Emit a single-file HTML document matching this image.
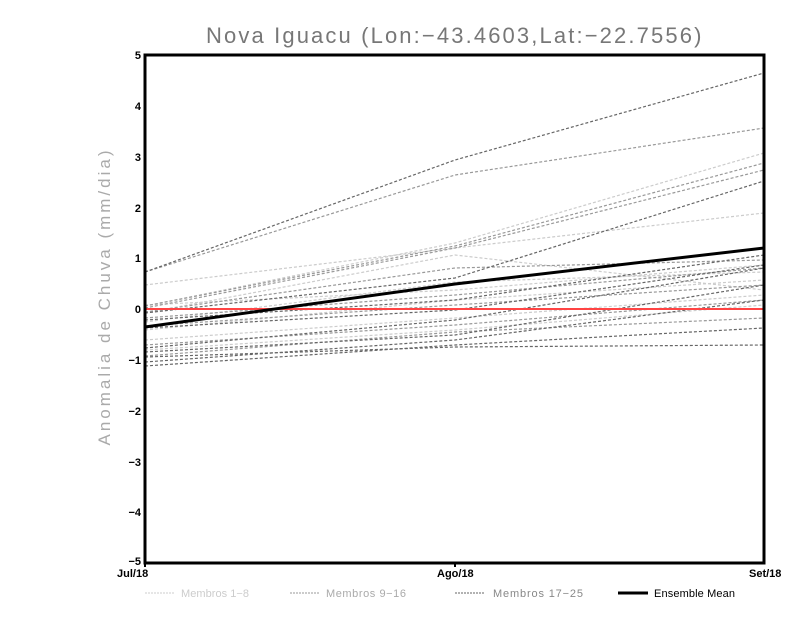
<!DOCTYPE html><html><head><style>body{margin:0;background:#fff}svg{display:block}text{font-family:"Liberation Sans",sans-serif}</style></head><body>
<svg width="800" height="618" viewBox="0 0 800 618">
<rect width="800" height="618" fill="#fff"/>
<text x="455" y="43" text-anchor="middle" font-size="22" fill="#777" letter-spacing="2.6" textLength="498" lengthAdjust="spacing">Nova Iguacu (Lon:−43.4603,Lat:−22.7556)</text>
<text transform="translate(110,298) rotate(-90)" text-anchor="middle" font-size="17" fill="#aaa" textLength="295" lengthAdjust="spacing">Anomalia de Chuva (mm/dia)</text>
<g fill="none" stroke-width="1.2" stroke-dasharray="3,2">
<g stroke="#ccc">
<polyline points="145,285 455,248 764,213"/>
<polyline points="145,306 455,243 764,153"/>
<polyline points="145,313 455,255 764,290"/>
<polyline points="145,322 455,282 764,272"/>
<polyline points="145,330 455,300 764,280"/>
<polyline points="145,340 455,318 764,295"/>
<polyline points="145,350 455,330 764,305"/>
<polyline points="145,305 455,290 764,265"/>
</g>
<g stroke="#999">
<polyline points="145,272 455,175 764,128"/>
<polyline points="145,306 455,246 764,163"/>
<polyline points="145,308 455,248 764,170"/>
<polyline points="145,312 455,268 764,260"/>
<polyline points="145,318 455,295 764,268"/>
<polyline points="145,326 455,305 764,285"/>
<polyline points="145,345 455,325 764,300"/>
<polyline points="145,356 455,332 764,318"/>
</g>
<g stroke="#666">
<polyline points="145,272 455,160 764,73"/>
<polyline points="145,313 455,278 764,181"/>
<polyline points="145,320 455,300 764,255"/>
<polyline points="145,328 455,310 764,265"/>
<polyline points="145,348 455,320 764,268"/>
<polyline points="145,352 455,335 764,285"/>
<polyline points="145,357 455,347 764,345"/>
<polyline points="145,362 455,340 764,300"/>
<polyline points="145,366 455,345 764,328"/>
</g>
</g>
<line x1="145" y1="309" x2="764" y2="309" stroke="#f44" stroke-width="2"/>
<polyline points="145,327 455,284 764,248" fill="none" stroke="#000" stroke-width="3"/>
<rect x="145" y="55" width="619" height="508" fill="none" stroke="#000" stroke-width="3"/>
<g font-size="11" font-weight="bold" text-anchor="end" fill="#000">
<text x="141" y="59">5</text><text x="141" y="110">4</text><text x="141" y="161">3</text><text x="141" y="212">2</text><text x="141" y="262">1</text><text x="141" y="313">0</text><text x="141" y="364">−1</text><text x="141" y="415">−2</text><text x="141" y="466">−3</text><text x="141" y="516">−4</text><text x="141" y="565">−5</text>
</g>
<g stroke="#000" stroke-width="2"><line x1="145" y1="563" x2="145" y2="567"/><line x1="455" y1="563" x2="455" y2="567"/></g>
<g font-size="11" font-weight="bold" fill="#000">
<text x="117" y="577">Jul/18</text><text x="437" y="577">Ago/18</text><text x="749" y="577">Set/18</text>
</g>
<g font-size="11" fill="#aaa">
<line x1="145" y1="593" x2="175" y2="593" stroke="#ccc" stroke-dasharray="2,1"/><text x="181" y="597" fill="#ccc" textLength="68">Membros 1−8</text>
<line x1="290" y1="593" x2="320" y2="593" stroke="#999" stroke-dasharray="2,1"/><text x="326" y="597" textLength="80">Membros 9−16</text>
<line x1="455" y1="593" x2="485" y2="593" stroke="#666" stroke-dasharray="2,1"/><text x="493" y="597" fill="#888" textLength="90">Membros 17−25</text>
<line x1="618" y1="593" x2="648" y2="593" stroke="#000" stroke-width="3"/><text x="654" y="597" fill="#000" textLength="81">Ensemble Mean</text>
</g>
</svg></body></html>
